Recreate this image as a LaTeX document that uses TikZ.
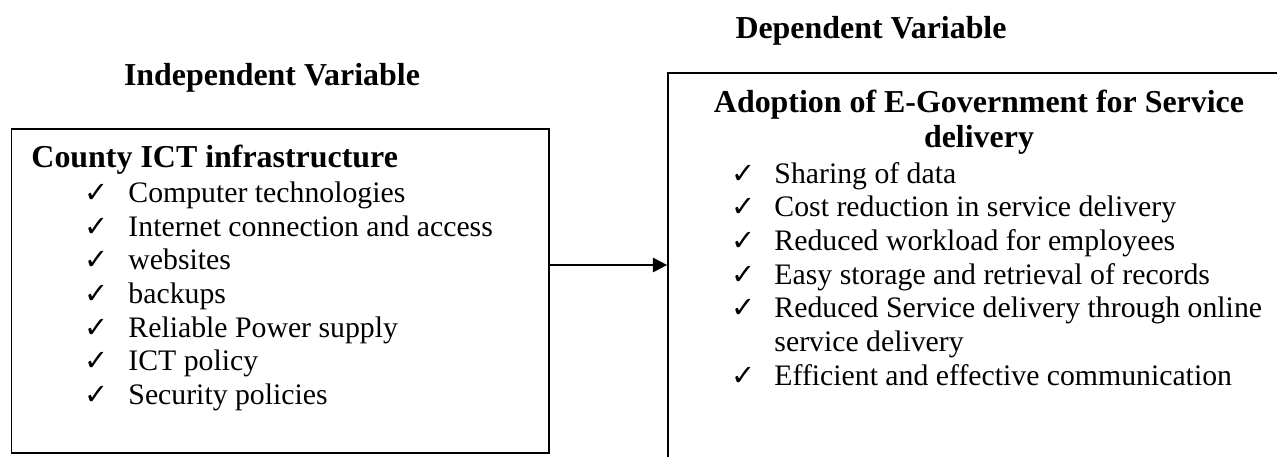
\documentclass[tikz,border=0pt]{standalone}
\usepackage{fontspec}
\setmainfont{Liberation Serif}
\newfontfamily\symfont{DejaVu Sans}
\usetikzlibrary{arrows.meta}
\newcommand{\chkmark}{{\symfont\fontsize{12}{14}\selectfont ✓}}

\begin{document}
\begin{tikzpicture}[
  x=0.4167pt, y=-0.4167pt,
  frame/.style={draw, line width=0.7pt, inner sep=0pt},
  title/.style={font=\fontsize{13.3}{15}\selectfont\bfseries, anchor=base, inner sep=0pt},
  head/.style={font=\fontsize{13.3}{15}\selectfont\bfseries, anchor=base west, inner sep=0pt},
  item/.style={font=\fontsize{12.4}{14}\selectfont, anchor=base west, inner sep=0pt},
  arr/.style={line width=0.9pt, -{Triangle[length=6pt, width=6pt]}}
]
\useasboundingbox (0,0) rectangle (1277,457);
\clip (0,0) rectangle (1277,457);

% titles
\node[title] (indtitle) at (272,86) {Independent Variable};
\node[title] (deptitle) at (871,39) {Dependent Variable};

% boxes
\node[frame, minimum width=223.9pt, minimum height=134.9pt] (indbox) at (280.3,291.2) {};
\node[frame, minimum width=259.2pt, minimum height=165.4pt] (depbox) at (979,271.5) {};

% independent variable
\node[head] (indhead) at (31,168) {County ICT infrastructure};
\foreach \txt [count=\i] in {Computer technologies, Internet connection and access,
    websites, backups, Reliable Power supply, ICT policy, Security policies} {
  \node[item] (lck\i) at (84,{169+33.6*\i}) {\chkmark};
  \node[item] (lit\i) at (128,{169+33.6*\i}) {\txt};
}

% dependent variable
\node[title] (dephead1) at (979,113) {Adoption of E-Government for Service};
\node[title] (dephead2) at (979,148) {delivery};
\foreach \ck/\txt [count=\i] in {1/Sharing of data, 1/Cost reduction in service delivery,
    1/Reduced workload for employees, 1/Easy storage and retrieval of records,
    1/Reduced Service delivery through online, 0/service delivery,
    1/Efficient and effective communication} {
  \ifnum\ck=1
    \node[item] (rck\i) at (731,{149.3+33.7*\i}) {\chkmark};
  \fi
  \node[item] (rit\i) at (774,{149.3+33.7*\i}) {\txt};
}

% connector
\coordinate (lvl) at (0,265);
\draw[arr] (indbox.east |- lvl) -- (depbox.west |- lvl);
\end{tikzpicture}
\end{document}
